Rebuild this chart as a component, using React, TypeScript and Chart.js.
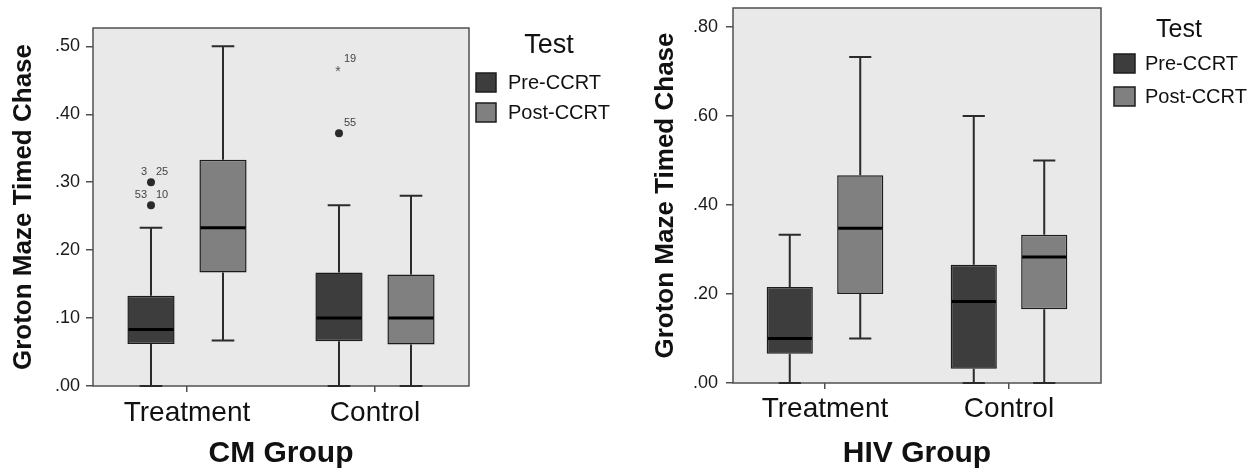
import React, { useEffect, useRef } from 'react';
import { Chart, registerables } from 'chart.js';

Chart.register(...registerables);

// ---------- data ----------
const categories = ['Treatment', 'Control'];
const seriesNames = ['Pre-CCRT', 'Post-CCRT'];
const legendTitle = 'Test';
const yAxisTitle = 'Groton Maze Timed Chase';

// CM Group
const cmTitle = 'CM Group';
const cmPreMin = [0.0, 0.0];
const cmPreQ1 = [0.062, 0.066];
const cmPreMedian = [0.083, 0.1];
const cmPreQ3 = [0.133, 0.167];
const cmPreMax = [0.233, 0.266];
const cmPostMin = [0.067, 0.0];
const cmPostQ1 = [0.167, 0.061];
const cmPostMedian = [0.233, 0.1];
const cmPostQ3 = [0.333, 0.164];
const cmPostMax = [0.5, 0.28];
const cmOutlierCategory = [0, 0, 1, 1];
const cmOutlierSeries = [0, 0, 0, 0];
const cmOutlierValue = [0.3, 0.266, 0.372, 0.466];
const cmOutlierLabels = [['3', '25'], ['53', '10'], ['', '55'], ['', '19']];
const cmOutlierExtreme = [false, false, false, true];
const cmYMax = 0.527;
const cmYStep = 0.1;

// HIV Group
const hivTitle = 'HIV Group';
const hivPreMin = [0.0, 0.0];
const hivPreQ1 = [0.066, 0.032];
const hivPreMedian = [0.1, 0.183];
const hivPreQ3 = [0.216, 0.266];
const hivPreMax = [0.333, 0.6];
const hivPostMin = [0.1, 0.0];
const hivPostQ1 = [0.2, 0.166];
const hivPostMedian = [0.348, 0.283];
const hivPostQ3 = [0.467, 0.333];
const hivPostMax = [0.733, 0.5];
const hivYMax = 0.843;
const hivYStep = 0.2;

// ---------- style ----------
const FONT = '"Liberation Sans", Arial, Helvetica, sans-serif';
const preColor = '#3d3d3d';
const postColor = '#808080';
const boxEdge = '#1c1c1c';
const plotBg = '#e9e9e9';
const axisColor = '#505050';
const textColor = '#111111';

const fmtTick = (v: number) => Number(v).toFixed(2).replace(/^0/, '');

const boxPlotPlugin = {
  id: 'boxPlot',
  beforeDraw(chart: any) {
    const { ctx, chartArea: a } = chart;
    ctx.save();
    ctx.fillStyle = plotBg;
    ctx.fillRect(a.left, a.top, a.right - a.left, a.bottom - a.top);
    ctx.restore();
  },
  beforeDatasetsDraw(chart: any, _args: any, opts: any) {
    const { ctx, chartArea: a } = chart;
    const y = chart.scales.y;
    ctx.save();
    ctx.strokeStyle = axisColor;
    ctx.lineWidth = 1.5;
    ctx.strokeRect(a.left, a.top, a.right - a.left, a.bottom - a.top);
    ctx.strokeStyle = '#2b2b2b';
    ctx.lineWidth = 2;
    opts.stats.forEach((s: any, di: number) => {
      const meta = chart.getDatasetMeta(di);
      meta.data.forEach((bar: any, i: number) => {
        const x = bar.x;
        const cap = bar.width * 0.24;
        const pMin = y.getPixelForValue(s.min[i]);
        const pMax = y.getPixelForValue(s.max[i]);
        const pQ1 = y.getPixelForValue(s.q1[i]);
        const pQ3 = y.getPixelForValue(s.q3[i]);
        ctx.beginPath();
        ctx.moveTo(x, pQ3);
        ctx.lineTo(x, pMax);
        ctx.moveTo(x - cap, pMax);
        ctx.lineTo(x + cap, pMax);
        ctx.moveTo(x, pQ1);
        ctx.lineTo(x, pMin);
        ctx.moveTo(x - cap, pMin);
        ctx.lineTo(x + cap, pMin);
        ctx.stroke();
      });
    });
    ctx.restore();
  },
  afterDatasetsDraw(chart: any, _args: any, opts: any) {
    const { ctx } = chart;
    const y = chart.scales.y;
    ctx.save();
    ctx.strokeStyle = '#000000';
    ctx.lineWidth = 3;
    opts.stats.forEach((s: any, di: number) => {
      const meta = chart.getDatasetMeta(di);
      meta.data.forEach((bar: any, i: number) => {
        const half = bar.width / 2 - 1;
        const pMed = y.getPixelForValue(s.median[i]);
        ctx.beginPath();
        ctx.moveTo(bar.x - half, pMed);
        ctx.lineTo(bar.x + half, pMed);
        ctx.stroke();
      });
    });
    (opts.outliers || []).forEach((o: any) => {
      const bar = chart.getDatasetMeta(o.series).data[o.category];
      const x = bar.x;
      const py = y.getPixelForValue(o.value);
      if (o.extreme) {
        ctx.fillStyle = '#555555';
        ctx.font = `14px ${FONT}`;
        ctx.textAlign = 'center';
        ctx.textBaseline = 'middle';
        ctx.fillText('*', x - 1, py + 3);
      } else {
        ctx.fillStyle = '#2a2a2a';
        ctx.beginPath();
        ctx.arc(x, py, 4, 0, Math.PI * 2);
        ctx.fill();
      }
      ctx.fillStyle = '#444444';
      ctx.font = `11px ${FONT}`;
      ctx.textBaseline = 'middle';
      if (o.labels[0]) {
        ctx.textAlign = 'right';
        ctx.fillText(o.labels[0], x - 4, py - 10);
      }
      if (o.labels[1]) {
        ctx.textAlign = 'left';
        ctx.fillText(o.labels[1], x + 5, py - 10);
      }
    });
    ctx.restore();
  },
};

const testLegendPlugin = {
  id: 'testLegend',
  afterDraw(chart: any, _args: any, o: any) {
    const { ctx } = chart;
    ctx.save();
    ctx.fillStyle = textColor;
    ctx.font = `${o.titleSize}px ${FONT}`;
    ctx.textAlign = 'center';
    ctx.textBaseline = 'middle';
    ctx.fillText(legendTitle, o.titleX, o.titleY);
    seriesNames.forEach((name, i) => {
      const by = o.boxY[i];
      ctx.fillStyle = i === 0 ? preColor : postColor;
      ctx.fillRect(o.boxX, by, o.boxW, o.boxH);
      ctx.strokeStyle = boxEdge;
      ctx.lineWidth = 1.5;
      ctx.strokeRect(o.boxX, by, o.boxW, o.boxH);
      ctx.fillStyle = textColor;
      ctx.font = `20px ${FONT}`;
      ctx.textAlign = 'left';
      ctx.textBaseline = 'middle';
      ctx.fillText(name, o.labelX, by + o.boxH / 2 + 1);
    });
    ctx.restore();
  },
};

function makeConfig(p: any): any {
  const stats = [
    { min: p.preMin, q1: p.preQ1, median: p.preMedian, q3: p.preQ3, max: p.preMax },
    { min: p.postMin, q1: p.postQ1, median: p.postMedian, q3: p.postQ3, max: p.postMax },
  ];
  const outliers = (p.outlierValue || []).map((v: number, i: number) => ({
    value: v,
    category: p.outlierCategory[i],
    series: p.outlierSeries[i],
    labels: p.outlierLabels[i],
    extreme: p.outlierExtreme[i],
  }));
  return {
    type: 'bar',
    data: {
      labels: categories,
      datasets: stats.map((s, di) => ({
        label: seriesNames[di],
        data: categories.map((_, i) => [s.q1[i], s.q3[i]]),
        backgroundColor: di === 0 ? preColor : postColor,
        borderColor: boxEdge,
        borderWidth: 1.5,
        borderSkipped: false,
        categoryPercentage: 0.766,
        barPercentage: 0.655,
      })),
    },
    options: {
      responsive: false,
      animation: false,
      events: [],
      layout: { padding: { left: 0, top: p.top, right: p.right, bottom: 0 } },
      plugins: {
        legend: { display: false },
        tooltip: { enabled: false },
        boxPlot: { stats, outliers },
        testLegend: p.legend,
      },
      scales: {
        x: {
          type: 'category',
          offset: true,
          grid: {
            display: true,
            offset: false,
            drawOnChartArea: false,
            drawTicks: true,
            tickLength: 6,
            color: axisColor,
            lineWidth: 1.5,
          },
          border: { display: false },
          ticks: {
            font: { family: FONT, size: 28 },
            color: textColor,
            padding: p.xTickPad,
            maxRotation: 0,
            autoSkip: false,
          },
          title: {
            display: true,
            text: p.xTitle,
            font: { family: FONT, size: 30, weight: 'bold' },
            color: textColor,
            padding: { top: 0, bottom: 0 },
          },
          afterFit: (s: any) => {
            s.height = p.xHeight;
            s.paddingLeft = 0;
            s.paddingRight = 0;
          },
        },
        y: {
          type: 'linear',
          min: 0,
          max: p.yMax,
          grid: {
            display: true,
            drawOnChartArea: false,
            drawTicks: true,
            tickLength: 7,
            color: axisColor,
            lineWidth: 1.5,
          },
          border: { display: false },
          ticks: {
            stepSize: p.yStep,
            includeBounds: false,
            callback: (v: any) => fmtTick(v),
            font: { family: FONT, size: 18 },
            color: '#1a1a1a',
            padding: p.yTickPad,
          },
          title: {
            display: true,
            text: yAxisTitle,
            font: { family: FONT, size: 26, weight: 'bold' },
            color: textColor,
            padding: { top: p.yTitlePad, bottom: 0 },
          },
          afterFit: (s: any) => {
            s.width = 93;
            s.paddingTop = 0;
            s.paddingBottom = 0;
          },
        },
      },
    },
    plugins: [boxPlotPlugin, testLegendPlugin],
  };
}

const cmParams = {
  xTitle: cmTitle,
  preMin: cmPreMin, preQ1: cmPreQ1, preMedian: cmPreMedian, preQ3: cmPreQ3, preMax: cmPreMax,
  postMin: cmPostMin, postQ1: cmPostQ1, postMedian: cmPostMedian, postQ3: cmPostQ3, postMax: cmPostMax,
  outlierValue: cmOutlierValue, outlierCategory: cmOutlierCategory, outlierSeries: cmOutlierSeries,
  outlierLabels: cmOutlierLabels, outlierExtreme: cmOutlierExtreme,
  yMax: cmYMax, yStep: cmYStep,
  top: 28, right: 171, xHeight: 86, xTickPad: 4, yTickPad: 6, yTitlePad: 8,
  legend: { titleX: 549, titleY: 46, titleSize: 27, boxX: 476, boxY: [73, 103], boxW: 20, boxH: 19, labelX: 508 },
};

const hivParams = {
  xTitle: hivTitle,
  preMin: hivPreMin, preQ1: hivPreQ1, preMedian: hivPreMedian, preQ3: hivPreQ3, preMax: hivPreMax,
  postMin: hivPostMin, postQ1: hivPostQ1, postMedian: hivPostMedian, postQ3: hivPostQ3, postMax: hivPostMax,
  outlierValue: [], outlierCategory: [], outlierSeries: [], outlierLabels: [], outlierExtreme: [],
  yMax: hivYMax, yStep: hivYStep,
  top: 8, right: 155, xHeight: 89, xTickPad: 3, yTickPad: 8, yTitlePad: 10,
  legend: { titleX: 539, titleY: 30, titleSize: 25, boxX: 474, boxY: [54, 87], boxW: 21, boxH: 19, labelX: 505 },
};

function BoxChart({ params, width, height }: { params: any; width: number; height: number }) {
  const ref = useRef<HTMLCanvasElement | null>(null);
  useEffect(() => {
    if (!ref.current) return;
    const chart = new Chart(ref.current, makeConfig(params));
    return () => chart.destroy();
  }, [params]);
  return <canvas ref={ref} width={width} height={height} style={{ display: 'block', width, height }} />;
}

export default function App() {
  return (
    <div
      style={{
        position: 'fixed',
        left: 0,
        top: 0,
        width: 1256,
        height: 472,
        background: '#ffffff',
        display: 'flex',
        overflow: 'hidden',
      }}
    >
      <BoxChart params={cmParams} width={640} height={472} />
      <BoxChart params={hivParams} width={616} height={472} />
    </div>
  );
}
